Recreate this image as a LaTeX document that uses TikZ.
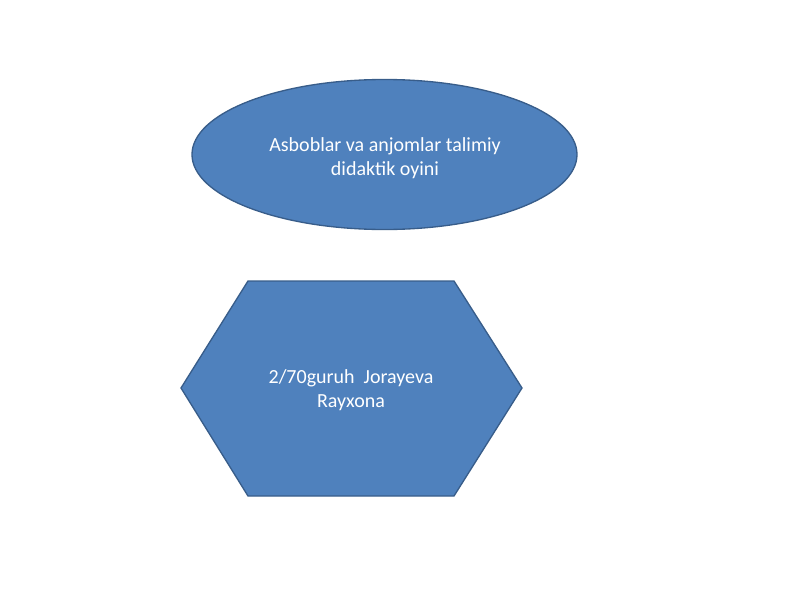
\documentclass[tikz,border=0pt]{standalone}
\usepackage{fontspec}
\setmainfont{Carlito}
\usetikzlibrary{shapes.geometric}
\definecolor{slideblue}{HTML}{4F81BD}
\definecolor{slideedge}{HTML}{385D8A}
\begin{document}
\begin{tikzpicture}[x=0.9pt, y=-0.9pt,
    blueshape/.style={fill=slideblue, draw=slideedge, line width=1.2pt},
    whitetext/.style={text=white, align=center, font=\fontsize{18}{21}\selectfont}]
  \useasboundingbox (0,0) rectangle (800,600);

  \node[blueshape, ellipse, minimum width=346.5pt, minimum height=135pt, inner sep=0pt] (game) at (384.5,154.5) {};
  \node[whitetext] (gametext) at (385,158) {Asboblar va anjomlar talimiy\\didaktik oyini};

  \draw[blueshape] (248,281) -- (454,281) -- (522,388) -- (454,496) -- (248,496) -- (181,388) -- cycle;
  \node[whitetext] (author) at (351,390) {2/70guruh\ \ Jorayeva\\Rayxona};
\end{tikzpicture}
\end{document}
